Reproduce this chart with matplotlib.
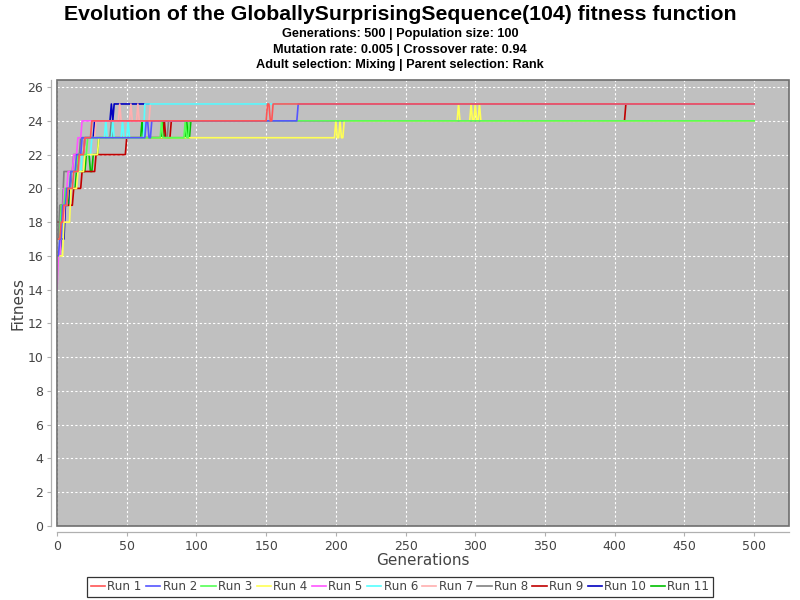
import matplotlib
matplotlib.use("Agg")
import matplotlib.pyplot as plt
from matplotlib.patches import Rectangle

TITLE = "Evolution of the GloballySurprisingSequence(104) fitness function"
SUBTITLES = ["Generations: 500 | Population size: 100",
             "Mutation rate: 0.005 | Crossover rate: 0.94",
             "Adult selection: Mixing | Parent selection: Rank"]
LAST_GEN = 500

RUN_NAMES = ["Run 1", "Run 2", "Run 3", "Run 4", "Run 5", "Run 6",
             "Run 7", "Run 8", "Run 9", "Run 10", "Run 11"]
RUN_COLORS = ["#FF5555", "#5555FF", "#55FF55", "#FFFF55", "#FF55FF", "#55FFFF",
              "#FFAFAF", "#808080", "#C00000", "#0000C0", "#00C000"]

# generations at which the best fitness changed, and the new value
RUN1_GEN = [0, 3, 5, 8, 12, 16, 20, 25, 151, 153, 155]
RUN1_FIT = [17, 18, 19, 20, 21, 22, 23, 24, 25, 24, 25]
RUN2_GEN = [0, 2, 4, 7, 10, 14, 18, 64, 66, 68, 173]
RUN2_FIT = [16, 17, 19, 20, 21, 22, 23, 24, 23, 24, 25]
RUN3_GEN = [0, 3, 6, 10, 15, 22, 75, 76, 92, 93, 95]
RUN3_FIT = [17, 19, 20, 21, 22, 23, 24, 23, 24, 23, 24]
RUN4_GEN = [0, 5, 10, 15, 20, 30, 200, 201, 203, 204, 206, 288, 289, 297, 298, 300, 301, 303, 304]
RUN4_FIT = [16, 18, 20, 21, 22, 23, 24, 23, 24, 23, 24, 25, 24, 25, 24, 25, 24, 25, 24]
RUN5_GEN = [0, 1, 3, 5, 8, 12, 15, 18]
RUN5_FIT = [14, 16, 18, 20, 21, 22, 23, 24]
RUN6_GEN = [0, 4, 8, 12, 18, 25, 35, 36, 40, 41, 47, 48, 51, 52, 63]
RUN6_FIT = [17, 19, 20, 21, 22, 23, 24, 23, 24, 23, 24, 23, 24, 23, 25]
RUN7_GEN = [0, 3, 6, 10, 14, 20, 28, 45, 46, 53, 54, 58, 59, 67]
RUN7_FIT = [16, 18, 20, 21, 22, 23, 24, 25, 24, 25, 24, 25, 24, 25]
RUN8_GEN = [0, 2, 5, 12, 17, 39, 40, 80]
RUN8_FIT = [17, 19, 21, 22, 23, 24, 23, 24]
RUN9_GEN = [0, 3, 12, 18, 28, 50, 77, 78, 82, 408]
RUN9_FIT = [18, 19, 20, 21, 22, 23, 24, 23, 24, 25]
RUN10_GEN = [0, 3, 6, 10, 15, 20, 27, 39, 40, 41]
RUN10_FIT = [16, 17, 19, 21, 22, 23, 24, 25, 24, 25]
RUN11_GEN = [0, 4, 9, 14, 21, 24, 26, 30, 61, 62, 76, 77, 93, 94, 96]
RUN11_FIT = [18, 19, 20, 21, 22, 21, 22, 23, 24, 23, 24, 23, 24, 23, 24]

RUNS = [(RUN1_GEN, RUN1_FIT), (RUN2_GEN, RUN2_FIT), (RUN3_GEN, RUN3_FIT),
        (RUN4_GEN, RUN4_FIT), (RUN5_GEN, RUN5_FIT), (RUN6_GEN, RUN6_FIT),
        (RUN7_GEN, RUN7_FIT), (RUN8_GEN, RUN8_FIT), (RUN9_GEN, RUN9_FIT),
        (RUN10_GEN, RUN10_FIT), (RUN11_GEN, RUN11_FIT)]

X_TICKS = list(range(0, 501, 50))
Y_TICKS = list(range(0, 27, 2))


def polyline(gens, fits, last):
    xs, ys = [gens[0]], [fits[0]]
    for g, v in zip(gens[1:], fits[1:]):
        xs += [g - 1, g]
        ys += [ys[-1], v]
    xs.append(last)
    ys.append(ys[-1])
    return xs, ys


fig = plt.figure(figsize=(8, 6), dpi=100)
fig.patch.set_facecolor("white")
ax = fig.add_axes([57 / 800, 1 - 526 / 600, (789 - 57) / 800, (526 - 80) / 600])
ax.set_facecolor("#C0C0C0")

for i, ((g, f), name, col) in enumerate(zip(RUNS, RUN_NAMES, RUN_COLORS)):
    xs, ys = polyline(g, f, LAST_GEN)
    ax.plot(xs, ys, color=col, lw=1.2, label=name, zorder=30 - i)

ax.set_xlim(0, 525)
ax.set_ylim(0, 26.42)
ax.set_xticks(X_TICKS)
ax.set_yticks(Y_TICKS)
ax.grid(True, color="white", linestyle=(0, (2, 2)), linewidth=0.8)
ax.set_axisbelow(True)

for s in ["top", "right"]:
    ax.spines[s].set_visible(False)
for s in ["left", "bottom"]:
    ax.spines[s].set_position(("outward", 4))
    ax.spines[s].set_color("#B0B0B0")
    ax.spines[s].set_linewidth(0.9)
ax.add_patch(Rectangle((0, 0), 1, 1, transform=ax.transAxes, fill=False,
                       edgecolor="#6E6E6E", lw=1.2, zorder=50, clip_on=False))
ax.tick_params(axis="both", colors="#B0B0B0", labelcolor="#444444",
               labelsize=9, length=3, width=0.8, pad=3)

ax.set_xlabel("Generations", fontsize=11, color="#444444", labelpad=0)
ax.set_ylabel("Fitness", fontsize=11, color="#444444", labelpad=1)

title_font = ["Liberation Sans", "DejaVu Sans"]
fig.text(0.5, 1 - 14 / 600, TITLE, ha="center", va="center",
         fontsize=15.3, fontweight="bold", family=title_font, color="black")
for k, s in enumerate(SUBTITLES):
    fig.text(0.5, 1 - (34 + 15.5 * k) / 600, s, ha="center", va="center",
             fontsize=9.2, fontweight="bold", family=title_font, color="black")

handles, labels = ax.get_legend_handles_labels()
leg = fig.legend(handles, labels, loc="center", ncol=11,
                 bbox_to_anchor=(400 / 800, 1 - 587 / 600),
                 frameon=True, fancybox=False, edgecolor="black",
                 fontsize=8.6, handlelength=1.2, handletextpad=0.2,
                 columnspacing=0.35, borderpad=0.3, borderaxespad=0,
                 labelcolor="#444444")
leg.get_frame().set_linewidth(0.9)

fig.savefig("out.png", dpi=100)
